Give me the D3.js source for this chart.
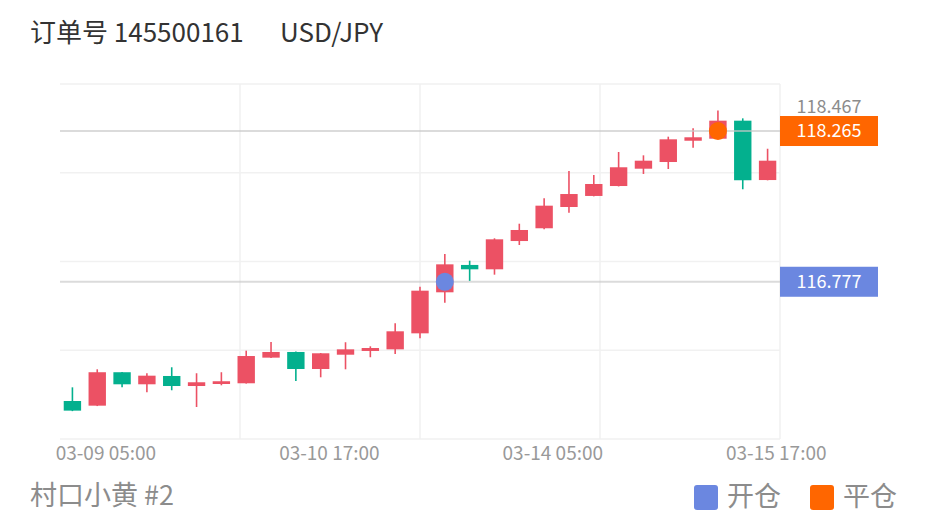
<!DOCTYPE html>
<html>
<head>
<meta charset="utf-8">
<script src="https://cdn.jsdelivr.net/npm/d3@7"></script>
<style>
  body { margin: 0; background: #fff; }
  svg { display: block; font-family: "Noto Sans CJK SC", "Noto Sans", sans-serif; }
</style>
</head>
<body>
<div id="chart"></div>
<script>
// 4h candles, USD/JPY
var times = [
  "03-09 01:00", "03-09 05:00", "03-09 09:00", "03-09 13:00", "03-09 17:00", "03-09 21:00",
  "03-10 01:00", "03-10 05:00", "03-10 09:00", "03-10 13:00", "03-10 17:00", "03-10 21:00",
  "03-11 01:00", "03-11 05:00", "03-11 09:00", "03-11 13:00", "03-11 17:00", "03-11 21:00",
  "03-12 01:00", "03-14 05:00", "03-14 09:00", "03-14 13:00", "03-14 17:00", "03-14 21:00",
  "03-15 01:00", "03-15 05:00", "03-15 09:00", "03-15 13:00", "03-15 17:00"
];
var opens  = [115.600, 115.554, 115.884, 115.765, 115.847, 115.748, 115.768, 115.775, 116.028, 116.084,
              115.916, 116.057, 116.094, 116.110, 116.268, 116.673, 116.943, 116.900, 117.179, 117.305,
              117.515, 117.624, 117.722, 117.893, 117.959, 118.169, 118.189, 118.367, 117.781];
var highs  = [115.735, 115.913, 115.887, 115.874, 115.933, 115.874, 115.884, 116.097, 116.183, 116.088,
              116.074, 116.180, 116.140, 116.367, 116.728, 117.051, 116.985, 117.206, 117.350, 117.601,
              117.870, 117.831, 118.058, 118.025, 118.209, 118.292, 118.467, 118.390, 118.090];
var lows   = [115.500, 115.550, 115.735, 115.686, 115.706, 115.541, 115.755, 115.772, 116.025, 115.798,
              115.834, 115.913, 116.032, 116.064, 116.219, 116.570, 116.785, 116.847, 117.140, 117.295,
              117.459, 117.620, 117.718, 117.841, 117.890, 118.100, 118.185, 117.690, 117.778];
var closes = [115.505, 115.884, 115.765, 115.850, 115.748, 115.785, 115.795, 116.044, 116.084, 115.916,
              116.071, 116.110, 116.123, 116.288, 116.689, 116.949, 116.900, 117.196, 117.288, 117.528,
              117.643, 117.742, 117.907, 117.972, 118.183, 118.203, 118.367, 117.779, 117.972];

var tickLabels = ["03-09 05:00", "03-10 17:00", "03-14 05:00", "03-15 17:00"];

var openTime = "03-11 13:00", openPrice = 116.777;
var closeTime = "03-15 09:00", closePrice = 118.265;
var yDomain = [115.225, 118.729];

var width = 930, height = 528;
var margin = ({top: 84, right: 150, bottom: 89, left: 60});
var upColor = "#ec5164", downColor = "#03b08e";
var openColor = "#6b87e0", closeColor = "#ff6600";

var data = times.map((t, i) => ({t: t, o: opens[i], h: highs[i], l: lows[i], c: closes[i]}));

var svg = d3.select("#chart").append("svg")
  .attr("width", width)
  .attr("height", height);

var x = d3.scaleBand()
  .domain(times)
  .range([margin.left, width - margin.right])
  .paddingInner(0.3)
  .paddingOuter(0.15);

var y = d3.scaleLinear()
  .domain(yDomain)
  .range([height - margin.bottom, margin.top]);

var x0 = margin.left, x1 = width - margin.right;
var y0 = margin.top, y1 = height - margin.bottom;

// grid
var grid = svg.append("g");
grid.selectAll(".hg")
  .data(d3.range(5))
  .join("line")
    .attr("x1", x0).attr("x2", x1)
    .attr("y1", d => y0 + (y1 - y0) * d / 4)
    .attr("y2", d => y0 + (y1 - y0) * d / 4)
    .attr("stroke", "#f1f1f1")
    .attr("stroke-width", 1.5);
grid.selectAll(".vg")
  .data([1, 2, 3, 4])
  .join("line")
    .attr("y1", y0).attr("y2", y1)
    .attr("x1", d => x0 + (x1 - x0) * d / 4)
    .attr("x2", d => x0 + (x1 - x0) * d / 4)
    .attr("stroke", "#f1f1f1")
    .attr("stroke-width", 1.5);

// candles
var cx = d => x(d.t) + x.bandwidth() / 2;
var candles = svg.append("g");
candles.selectAll(".wick")
  .data(data)
  .join("line")
    .attr("x1", cx).attr("x2", cx)
    .attr("y1", d => y(d.h))
    .attr("y2", d => y(d.l))
    .attr("stroke", d => d.c >= d.o ? upColor : downColor)
    .attr("stroke-width", 1.6);
candles.selectAll(".body")
  .data(data)
  .join("rect")
    .attr("x", d => x(d.t))
    .attr("width", x.bandwidth())
    .attr("y", d => y(Math.max(d.o, d.c)))
    .attr("height", d => Math.max(2, Math.abs(y(d.o) - y(d.c))))
    .attr("fill", d => d.c >= d.o ? upColor : downColor);

// open / close price lines
[openPrice, closePrice].forEach(p => {
  svg.append("line")
    .attr("x1", x0).attr("x2", x1)
    .attr("y1", y(p)).attr("y2", y(p))
    .attr("stroke", "rgba(200,200,200,0.65)")
    .attr("stroke-width", 2);
});

// markers
svg.append("circle")
  .attr("cx", x(openTime) + x.bandwidth() / 2)
  .attr("cy", y(openPrice))
  .attr("r", 9)
  .attr("fill", openColor);
svg.append("circle")
  .attr("cx", x(closeTime) + x.bandwidth() / 2)
  .attr("cy", y(closePrice))
  .attr("r", 9)
  .attr("fill", closeColor);

// right labels
var labelX = x1 + 49;
var maxHigh = d3.max(highs);
svg.append("text")
  .attr("x", labelX)
  .attr("y", y(maxHigh) - 2)
  .attr("text-anchor", "middle")
  .attr("dominant-baseline", "middle")
  .attr("font-size", 18)
  .attr("fill", "#8c8c8c")
  .text(maxHigh.toFixed(3));

[[closePrice, closeColor], [openPrice, openColor]].forEach(([p, col]) => {
  svg.append("rect")
    .attr("x", x1)
    .attr("y", y(p) - 15)
    .attr("width", 98)
    .attr("height", 30)
    .attr("fill", col);
  svg.append("text")
    .attr("x", labelX)
    .attr("y", y(p) + 1)
    .attr("text-anchor", "middle")
    .attr("dominant-baseline", "middle")
    .attr("font-size", 18)
    .attr("fill", "#fff")
    .text(p.toFixed(3));
});

// x axis labels
svg.append("g")
  .selectAll("text")
  .data(tickLabels)
  .join("text")
    .attr("x", d => x(d) + x.bandwidth())
    .attr("y", 455)
    .attr("text-anchor", "middle")
    .attr("dominant-baseline", "middle")
    .attr("font-size", 19)
    .attr("fill", "#999")
    .text(d => d);

// title
svg.append("text")
  .attr("x", 30).attr("y", 35)
  .attr("dominant-baseline", "middle")
  .attr("font-size", 26)
  .attr("fill", "#333")
  .text("订单号 145500161");
svg.append("text")
  .attr("x", 280).attr("y", 35)
  .attr("dominant-baseline", "middle")
  .attr("font-size", 26)
  .attr("fill", "#333")
  .text("USD/JPY");

// footer
svg.append("text")
  .attr("x", 30).attr("y", 498)
  .attr("dominant-baseline", "middle")
  .attr("font-size", 27)
  .attr("fill", "#8c8c8c")
  .text("村口小黄 #2");

var legend = [["开仓", openColor, 694], ["平仓", closeColor, 810]];
legend.forEach(([name, col, lx]) => {
  svg.append("rect")
    .attr("x", lx).attr("y", 485)
    .attr("width", 24).attr("height", 25)
    .attr("rx", 3)
    .attr("fill", col);
  svg.append("text")
    .attr("x", lx + 33).attr("y", 499)
    .attr("dominant-baseline", "middle")
    .attr("font-size", 27)
    .attr("fill", "#8c8c8c")
    .text(name);
});
</script>
</body>
</html>
